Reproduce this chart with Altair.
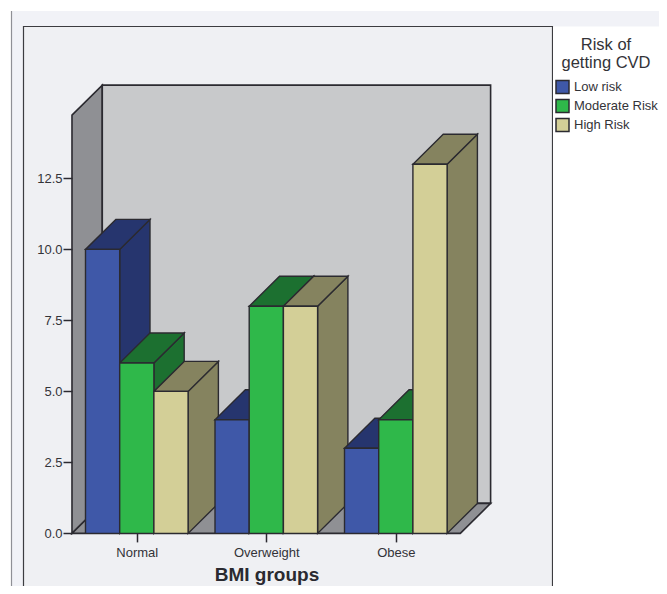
import altair as alt
import pandas as pd

groups = ["Normal", "Overweight", "Obese"]
series = ["Low risk", "Moderate Risk", "High Risk"]
low = [10, 4, 3]
moderate = [6, 8, 4]
high = [5, 8, 13]
front_colors = ["#3f58a8", "#2fb84a", "#d3cf97"]
dark_colors = ["#26356e", "#1c7030", "#85835f"]
y_ticks = [0.0, 2.5, 5.0, 7.5, 10.0, 12.5]

INK = "#2b2a30"
TXT = "#333338"
FONT = "Liberation Sans"
group_step = 3.787
dx, dy = 0.886, 1.056      # oblique depth in axis units
wall_top = 14.73
wall_l, wall_r = -0.395, 10.96
x_scale = alt.Scale(domain=[-2.266, 16.77], nice=False, zero=False)
y_scale = alt.Scale(domain=[-1.852, 18.5], nice=False, zero=False)
centers = [1.5 + group_step * i for i in range(3)]

rows, side, top = [], [], []
n = 0
for g, vals in enumerate(zip(low, moderate, high)):
    for s, v in enumerate(vals):
        x0 = g * group_step + s
        x1 = x0 + 1
        rows.append(dict(id=n, series=series[s], x0=x0, x1=x1, v=v, base=0))
        for t in (0, 1):
            side.append(dict(id=n, c=dark_colors[s], x=x1 + t * dx, y=v + t * dy, y2=t * dy))
            top.append(dict(id=n, c=dark_colors[s], y=v + t * dy, x=x0 + t * dx, x2=x1 + t * dx))
        n += 1
rows, side, top = map(pd.DataFrame, (rows, side, top))
one = pd.DataFrame({"a": [0]})

# page panels
outer = alt.Chart(one).mark_rect(fill="#f1f2f7").encode(
    x=alt.value(4), x2=alt.value(670), y=alt.value(3), y2=alt.value(600))
edge = alt.Chart(one).mark_rule(color="#8f9096", strokeWidth=1.2).encode(
    x=alt.value(3.5), y=alt.value(3), y2=alt.value(600))
inner = alt.Chart(one).mark_rect(fill="#eff0f3", stroke="#3c3c40", strokeWidth=1.2).encode(
    x=alt.value(15.5), x2=alt.value(544.5), y=alt.value(18.5), y2=alt.value(620))
legend_bg = alt.Chart(one).mark_rect(fill="#ffffff").encode(
    x=alt.value(545), x2=alt.value(653), y=alt.value(18.5), y2=alt.value(600))

# walls
left_wall = alt.Chart(pd.DataFrame({
    "x": [wall_l, wall_l + dx], "y": [wall_top, wall_top + dy], "y2": [0, dy]})
).mark_area(fill="#8f9094", stroke=INK, strokeWidth=1.6, opacity=1).encode(
    x=alt.X("x:Q", scale=x_scale,
            axis=alt.Axis(values=centers, orient="bottom", offset=-52.6, domain=False, grid=False, zindex=1,
                          tickSize=8.5, tickWidth=1.5, tickColor=INK, labelFont=FONT, labelFontSize=13,
                          labelColor=TXT, labelPadding=5,
                          labelExpr="['Normal','Overweight','Obese'][round((datum.value-1.5)/3.787)]",
                          title="BMI groups", titleFont=FONT, titleFontSize=19, titleFontWeight="bold",
                          titleColor="#2a2a30", titleX=258.5, titleY=47.5, titleBaseline="alphabetic")),
    y=alt.Y("y:Q", scale=y_scale,
            axis=alt.Axis(values=y_ticks, orient="left", offset=-64, domain=False, grid=False, format=".1f",
                          zindex=1, tickSize=9, tickWidth=1.5, tickColor=INK, labelFont=FONT, labelFontSize=13,
                          labelColor=TXT, labelPadding=1, title=None)),
    y2="y2:Q")

back_wall = alt.Chart(pd.DataFrame({
    "x": [wall_l + dx], "x2": [wall_r + dx], "y": [wall_top + dy], "y2": [dy]})
).mark_rect(fill="#c8c9cb", stroke=INK, strokeWidth=1.6).encode(
    x=alt.X("x:Q", scale=x_scale), x2="x2:Q", y=alt.Y("y:Q", scale=y_scale), y2="y2:Q")

floor = alt.Chart(pd.DataFrame({
    "y": [0, dy], "x": [wall_l, wall_l + dx], "x2": [wall_r, wall_r + dx]})
).mark_area(fill="#8f9094", stroke=INK, strokeWidth=1.6, orient="horizontal", opacity=1).encode(
    y=alt.Y("y:Q", scale=y_scale), x=alt.X("x:Q", scale=x_scale), x2="x2:Q")

# bars
sides = alt.Chart(side).mark_area(stroke=INK, strokeWidth=1.4, opacity=1).encode(
    x=alt.X("x:Q", scale=x_scale), y=alt.Y("y:Q", scale=y_scale), y2="y2:Q",
    detail="id:Q", fill=alt.Fill("c:N", scale=None))
tops = alt.Chart(top).mark_area(stroke=INK, strokeWidth=1.4, orient="horizontal", opacity=1).encode(
    y=alt.Y("y:Q", scale=y_scale), x=alt.X("x:Q", scale=x_scale), x2="x2:Q",
    detail="id:Q", fill=alt.Fill("c:N", scale=None))
fronts = alt.Chart(rows).mark_rect(stroke=INK, strokeWidth=1.4).encode(
    x=alt.X("x0:Q", scale=x_scale), x2="x1:Q",
    y=alt.Y("v:Q", scale=y_scale), y2="base:Q",
    color=alt.Color("series:N", scale=alt.Scale(domain=series, range=front_colors),
                    legend=alt.Legend(orient="none", legendX=547, legendY=29,
                                      title=["Risk of", "getting CVD"], titleFont=FONT, titleFontSize=16.5,
                                      titleFontWeight="normal", titleColor=TXT, titleAlign="center",
                                      titleAnchor="middle", titleLineHeight=18, titlePadding=8,
                                      labelFont=FONT, labelFontSize=13, labelColor=TXT, labelOffset=4,
                                      symbolType="square", symbolSize=169, symbolStrokeWidth=1.5,
                                      symbolStrokeColor=INK, rowPadding=0, labelLimit=120, padding=0)))

chart = alt.layer(outer, edge, inner, legend_bg, left_wall, back_wall, floor, sides, tops, fronts).properties(
    width=651, height=578, padding=0, autosize=alt.AutoSizeParams(type="none"),
    background="#ffffff"
).configure_view(stroke=None).resolve_scale(fill="independent")

chart.save("out.html", embed_options={"renderer": "svg", "actions": False})
